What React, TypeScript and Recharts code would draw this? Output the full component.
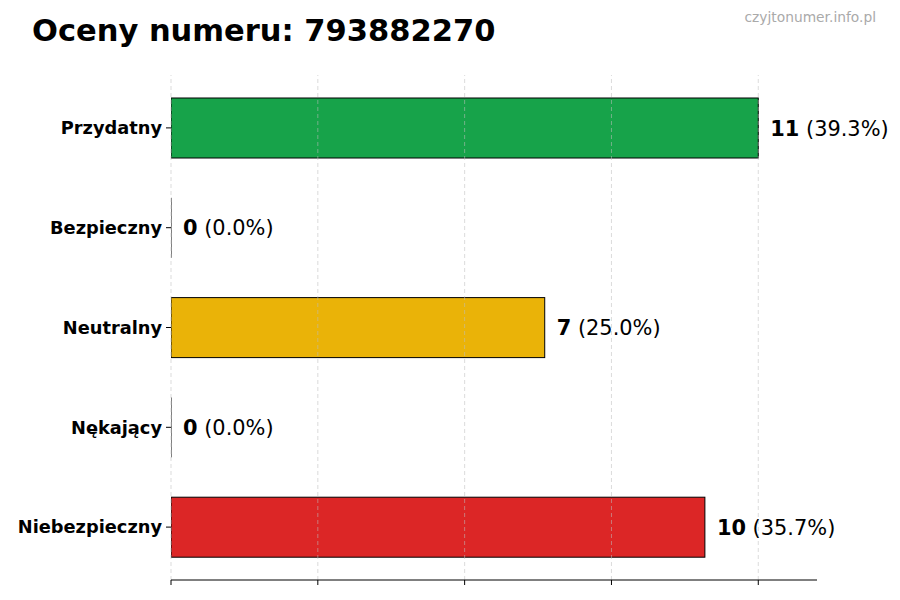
import React from 'react';
import { BarChart, Bar, XAxis, YAxis, ReferenceLine, LabelList, Cell } from 'recharts';

const categories = ['Przydatny', 'Bezpieczny', 'Neutralny', 'Nękający', 'Niebezpieczny'];
const counts = [11, 0, 7, 0, 10];
const percents = ['39.3%', '0.0%', '25.0%', '0.0%', '35.7%'];
const barColors = ['#17a34a', '#2563eb', '#eab308', '#f97316', '#dc2626'];
const xTicks = [0, 2.75, 5.5, 8.25, 11];

const data = categories.map((name, i) => ({ name, value: counts[i], pct: percents[i] }));

const FONT = '"DejaVu Sans", sans-serif';

const BarShape = (props: any) => {
  const { x, y, width, height, fill } = props;
  if (!width) {
    return <line x1={x} x2={x} y1={y} y2={y + height} stroke="#000" strokeWidth={1} />;
  }
  return <rect x={x} y={y} width={width} height={height} fill={fill} stroke="#000" strokeWidth={1} />;
};

const ValueLabel = (props: any) => {
  const { x, y, width, height, index } = props;
  const d = data[index];
  return (
    <text x={x + width + 12} y={y + height / 2} dy="0.36em" fontFamily={FONT} fontSize={20.9} fill="#000">
      <tspan fontWeight="bold">{d.value}</tspan>
      <tspan> ({d.pct})</tspan>
    </text>
  );
};

const App: React.FC = () => {
  return (
    <div style={{ position: 'absolute', top: 0, left: 0, width: 900, height: 600, background: '#fff', fontFamily: FONT }}>
      <div style={{ position: 'absolute', left: 32, top: 13, fontSize: 30.5, fontWeight: 'bold', color: '#000', lineHeight: '36px' }}>
        Oceny numeru: 793882270
      </div>
      <div style={{ position: 'absolute', right: 24, top: 9, fontSize: 13.8, color: '#aaaaaa', lineHeight: '17px' }}>
        czyjtonumer.info.pl
      </div>
      <BarChart
        width={900}
        height={600}
        data={data}
        layout="vertical"
        margin={{ top: 75, right: 83, bottom: 0, left: 0 }}
        barCategoryGap={0}
      >
        <XAxis
          type="number"
          domain={[0, 12.1]}
          ticks={xTicks}
          tickFormatter={() => ''}
          axisLine={{ stroke: '#000' }}
          tickLine={{ stroke: '#000' }}
          tickSize={5}
          height={20}
          allowDataOverflow
        />
        <YAxis
          type="category"
          dataKey="name"
          width={171}
          axisLine={false}
          tickLine={{ stroke: '#000' }}
          tickSize={5}
          tickMargin={4}
          padding={{ top: 3, bottom: 3 }}
          tick={{ fontFamily: FONT, fontSize: 17.8, fontWeight: 'bold', fill: '#000' }}
        />
        {/* light dashed grid at the x ticks, faintly visible over the bars like the original */}
        {xTicks.map((t) => (
          <ReferenceLine key={t} x={t} stroke="#bdbdbd" strokeOpacity={0.55} strokeDasharray="4 3" />
        ))}
        <Bar dataKey="value" barSize={60} shape={<BarShape />} isAnimationActive={false}>
          {data.map((d, i) => (
            <Cell key={d.name} fill={barColors[i]} />
          ))}
          <LabelList dataKey="value" content={<ValueLabel />} />
        </Bar>
      </BarChart>
    </div>
  );
};

export default App;
